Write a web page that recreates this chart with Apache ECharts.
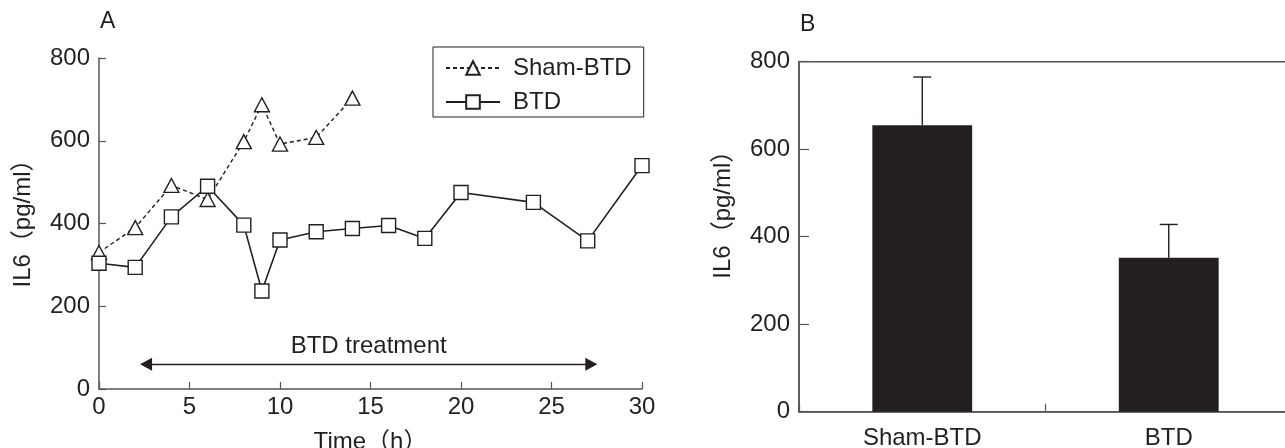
<!DOCTYPE html>
<html>
<head>
<meta charset="utf-8">
<title>IL6</title>
<script src="https://cdn.jsdelivr.net/npm/echarts@6/dist/echarts.min.js"></script>
<style>
html, body { margin: 0; padding: 0; background: #fff; }
#chart { width: 1285px; height: 448px; }
</style>
</head>
<body>
<div id="chart"></div>
<script>
// time course (h) and IL6 values
const shamTime = [0, 2, 4, 6, 8, 9, 10, 12, 14];
const shamIL6 = [330, 390, 492, 458, 598, 687, 592, 608, 703];
const btdTime = [0, 2, 4, 6, 8, 9, 10, 12, 14, 16, 18, 20, 24, 27, 30];
const btdIL6 = [304, 294, 416, 490, 396, 237, 360, 380, 388, 395, 364, 475, 451, 358, 540];

// treatment window arrow (h) and its height on the IL6 axis
const treatStart = 2.6;
const treatEnd = 27.2;
const treatLevel = 60;

// panel B
const groups = ["Sham-BTD", "BTD"];
const groupMean = [655, 352];
const groupUpper = [765, 428];

const ink = "#231f20";
const axisGray = "#555";
const font = "'Liberation Sans', Arial, 'Noto Sans CJK SC', sans-serif";

const zip = (xs, ys) => xs.map((x, i) => [x, ys[i]]);

let chart = echarts.init(document.getElementById("chart"));

const axisCommon = {
    axisLine: { show: true, lineStyle: { color: axisGray, width: 1.5 } },
    axisTick: { show: true, inside: true, length: 7, lineStyle: { color: axisGray, width: 1.2 } },
    splitLine: { show: false },
    axisLabel: { color: ink, fontSize: 24, fontFamily: font },
    nameTextStyle: { color: ink, fontSize: 24, fontFamily: font },
};

let option = {
    animation: false,
    textStyle: { fontFamily: font },
    graphic: [
        { type: "text", left: 100, top: 10, style: { text: "A", fontSize: 23, fill: ink, font: "23px " + font } },
        { type: "text", left: 800, top: 13, style: { text: "B", fontSize: 23, fill: ink, font: "23px " + font } },
    ],
    legend: {
        left: 433,
        top: 47,
        orient: "vertical",
        data: ["Sham-BTD", "BTD"],
        itemWidth: 54,
        itemHeight: 17,
        itemGap: 10,
        padding: [9, 12, 3, 12],
        borderColor: ink,
        borderWidth: 1,
        textStyle: { color: ink, fontSize: 24, fontFamily: font, padding: [0, 0, 0, 8] },
    },
    grid: [
        { left: 99, right: 643, top: 58, bottom: 59, outerBoundsMode: "none" },
        {
            left: 799, width: 493, top: 61.7, bottom: 36.3, outerBoundsMode: "none",
            show: true, borderColor: axisGray, borderWidth: 1.5,
        },
    ],
    xAxis: [
        Object.assign({}, axisCommon, {
            gridIndex: 0,
            type: "value",
            min: 0,
            max: 30,
            interval: 5,
            name: "Time（h）",
            nameLocation: "middle",
            nameGap: 41,
            axisLabel: Object.assign({}, axisCommon.axisLabel, { margin: 6 }),
        }),
        Object.assign({}, axisCommon, {
            gridIndex: 1,
            type: "category",
            data: groups,
            axisTick: { show: true, inside: true, length: 8, lineStyle: { color: axisGray, width: 1.2 } },
            axisLabel: Object.assign({}, axisCommon.axisLabel, { margin: 15 }),
        }),
    ],
    yAxis: [
        Object.assign({}, axisCommon, {
            gridIndex: 0,
            type: "value",
            min: 0,
            max: 800,
            interval: 200,
            name: "IL6（pg/ml）",
            nameLocation: "middle",
            nameGap: 64,
            nameTextStyle: Object.assign({}, axisCommon.nameTextStyle, { padding: [0, 0, 0, 12] }),
            axisLabel: Object.assign({}, axisCommon.axisLabel, { margin: 9 }),
        }),
        Object.assign({}, axisCommon, {
            gridIndex: 1,
            type: "value",
            min: 0,
            max: 800,
            interval: 200,
            name: "IL6（pg/ml）",
            nameLocation: "middle",
            nameGap: 64,
            nameTextStyle: Object.assign({}, axisCommon.nameTextStyle, { padding: [0, 0, 0, 56] }),
            axisTick: { show: true, inside: true, length: 10, lineStyle: { color: axisGray, width: 1.2 } },
            axisLabel: Object.assign({}, axisCommon.axisLabel, { margin: 9 }),
        }),
    ],
    series: [
        {
            name: "Sham-BTD",
            type: "line",
            xAxisIndex: 0,
            yAxisIndex: 0,
            data: zip(shamTime, shamIL6),
            symbol: "triangle",
            symbolSize: [15, 14],
            lineStyle: { color: ink, width: 1.4, type: [4, 3] },
            itemStyle: { color: "#fff", borderColor: ink, borderWidth: 1.4 },
            z: 3,
        },
        {
            name: "BTD",
            type: "line",
            xAxisIndex: 0,
            yAxisIndex: 0,
            data: zip(btdTime, btdIL6),
            symbol: "rect",
            symbolSize: 14,
            lineStyle: { color: ink, width: 1.6 },
            itemStyle: { color: "#fff", borderColor: ink, borderWidth: 1.4 },
            z: 4,
            markLine: {
                silent: true,
                symbol: ["triangle", "triangle"],
                symbolSize: [13, 12],
                lineStyle: { color: ink, width: 1.4, type: "solid" },
                label: {
                    show: true,
                    position: "middle",
                    formatter: "BTD treatment",
                    color: ink,
                    fontSize: 24,
                    fontFamily: font,
                    distance: 6,
                },
                data: [[{ coord: [treatStart, treatLevel] }, { coord: [treatEnd, treatLevel] }]],
            },
        },
        {
            type: "bar",
            xAxisIndex: 1,
            yAxisIndex: 1,
            data: groupMean,
            barWidth: "40.5%",
            itemStyle: { color: ink },
        },
        {
            type: "custom",
            xAxisIndex: 1,
            yAxisIndex: 1,
            data: groupMean.map((m, i) => [i, m, groupUpper[i]]),
            encode: { x: 0, y: [1, 2] },
            z: 5,
            renderItem: function (params, api) {
                let base = api.coord([api.value(0), api.value(1)]);
                let top = api.coord([api.value(0), api.value(2)]);
                let half = 9;
                let st = { stroke: ink, lineWidth: 1.4 };
                return {
                    type: "group",
                    children: [
                        { type: "line", shape: { x1: base[0], y1: base[1], x2: top[0], y2: top[1] }, style: st },
                        { type: "line", shape: { x1: top[0] - half, y1: top[1], x2: top[0] + half, y2: top[1] }, style: st },
                    ],
                };
            },
        },
    ],
};

chart.setOption(option);
</script>
</body>
</html>
